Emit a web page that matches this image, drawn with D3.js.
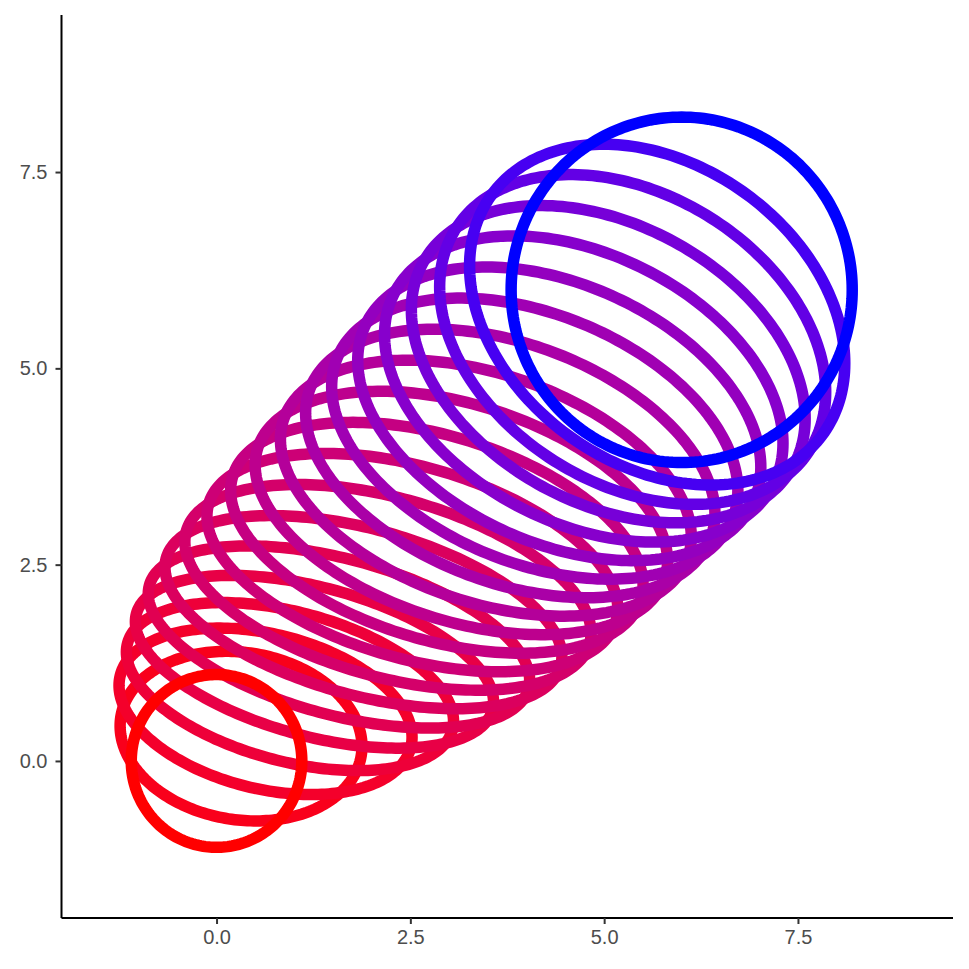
<!DOCTYPE html>
<html>
<head>
<meta charset="utf-8">
<script src="https://cdn.jsdelivr.net/npm/d3@7"></script>
<style>
  body { margin: 0; background: #fff; }
  svg { display: block; }
</style>
</head>
<body>
<svg id="chart" width="969" height="969"></svg>
<script>
// ring centres (x = y), first red ring to last blue ring
var centres = [0, 0.316, 0.632, 0.947, 1.263, 1.579, 1.895, 2.211, 2.526, 2.842,
               3.158, 3.474, 3.789, 4.105, 4.421, 4.737, 5.053, 5.368, 5.684, 6.0];
// half width of each ring along x
var halfX = [1.10, 1.56, 1.89, 2.11, 2.31, 2.46, 2.56, 2.62, 2.65, 2.66,
             2.66, 2.65, 2.64, 2.62, 2.60, 2.57, 2.54, 2.49, 2.42, 2.20];
// half height of each ring along y
var halfY = [1.10, 1.08, 1.06, 1.07, 1.10, 1.16, 1.23, 1.31, 1.39, 1.47,
             1.55, 1.63, 1.71, 1.79, 1.87, 1.95, 2.02, 2.10, 2.17, 2.20];
// y offset (from the centre) of the right-most point of each ring: the tilt
var tiltY = [0, -0.13, -0.33, -0.44, -0.51, -0.55, -0.57, -0.58, -0.59, -0.60,
             -0.61, -0.62, -0.64, -0.66, -0.68, -0.69, -0.69, -0.67, -0.62, 0];

var xTicks = [0, 2.5, 5, 7.5];
var yTicks = [0, 2.5, 5, 7.5];

var svg = d3.select("#chart");

var x = d3.scaleLinear().domain([-2, 9.5]).range([61.5, 953]);
var y = d3.scaleLinear().domain([-2, 9.5]).range([918, 15]);

var color = d3.scaleLinear()
    .domain([0, centres.length - 1])
    .range(["#ff0000", "#0000ff"])
    .interpolate(d3.interpolateLab);

var rings = centres.map(function(c, i) {
    return {i: i, c: c, rx: halfX[i], ry: halfY[i], ty: tiltY[i]};
});

var angles = d3.range(0, 240).map(function(j) { return j / 240 * 2 * Math.PI; });

var line = d3.line()
    .x(function(p) { return x(p[0]); })
    .y(function(p) { return y(p[1]); })
    .curve(d3.curveLinearClosed);

function ringPoints(r) {
    var w = Math.sqrt(r.ry * r.ry - r.ty * r.ty);
    return angles.map(function(t) {
        return [r.c + r.rx * Math.cos(t), r.c + r.ty * Math.cos(t) + w * Math.sin(t)];
    });
}

// middle rings first, the two end circles on top
var order = rings.slice(1, rings.length - 1).concat([rings[0], rings[rings.length - 1]]);

svg.append("g")
    .selectAll("path")
    .data(order)
    .enter()
    .append("path")
    .attr("d", function(d) { return line(ringPoints(d)); })
    .attr("fill", "none")
    .attr("stroke", function(d) { return color(d.i); })
    .attr("stroke-width", 11.5);

// axes, classic theme
var xAxis = svg.append("g")
    .attr("transform", "translate(0,918)")
    .call(d3.axisBottom(x).tickValues(xTicks).tickFormat(d3.format(".1f")).tickSize(6).tickPadding(6));
var yAxis = svg.append("g")
    .attr("transform", "translate(61.5,0)")
    .call(d3.axisLeft(y).tickValues(yTicks).tickFormat(d3.format(".1f")).tickSize(6).tickPadding(8));

[xAxis, yAxis].forEach(function(a) {
    a.select(".domain").attr("stroke", "#000").attr("stroke-width", 2);
    a.selectAll(".tick line").attr("stroke", "#333").attr("stroke-width", 2);
    a.selectAll(".tick text")
        .style("font-family", "'Liberation Sans', Arial, sans-serif")
        .style("font-size", "20px")
        .style("fill", "#4d4d4d");
});
xAxis.select(".domain").attr("d", "M61.5,0H953");
yAxis.select(".domain").attr("d", "M0,15V918");
</script>
</body>
</html>
